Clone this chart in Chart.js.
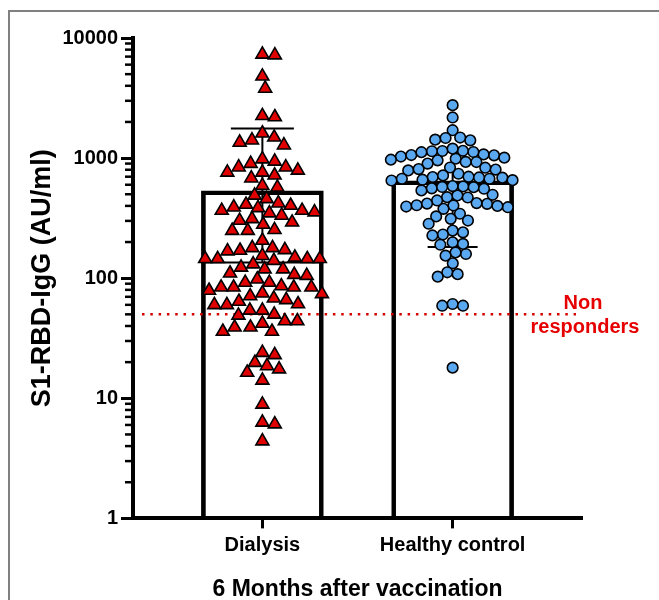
<!DOCTYPE html>
<html>
<head>
<meta charset="utf-8">
<script src="https://cdn.jsdelivr.net/npm/chart.js@4.4.1/dist/chart.umd.min.js"></script>
<style>
  html, body { margin: 0; padding: 0; background: #fff; }
  #wrap { position: relative; width: 659px; height: 600px; overflow: hidden; }
  #frame { position: absolute; left: 8px; top: 10px; right: -10px; bottom: -10px;
           border-left: 2px solid #808080; border-top: 2px solid #808080; }
  canvas { position: absolute; left: 0; top: 0; }
</style>
</head>
<body>
<div id="wrap">
  <div id="frame"></div>
  <canvas id="myChart" width="659" height="600"></canvas>
</div>
<script>
// groups, bar heights (means) and error bars
const groups = ['Dialysis', 'Healthy control'];
const barMeans = [535, 648];
const errUpper = [1766, 1133];
const errLower = [135, 182];
const yTicks = [1, 10, 100, 1000, 10000];
const cutoff = 50;
const cutoffLabel = ['Non', 'responders'];

// individual values (AU/ml)
const dialysis = [
  7200, 7300, 4800, 3800, 2200, 2250, 1610, 1490, 1350, 1280, 1410, 980, 940, 900,
  840, 760, 720, 790, 760, 840, 680, 590, 570,
  458, 489, 390, 385, 421, 411, 403, 333, 355, 366, 366, 348, 302, 280, 312, 292,
  249, 253, 249, 206, 179, 179, 170, 172, 168, 145, 154, 140, 145, 131, 145, 145, 149,
  119, 123, 119, 107, 110, 105, 98,
  86, 84, 79, 92, 74, 84, 75, 84, 84, 71, 92, 60, 64, 60, 61, 54, 54, 66, 68, 50, 49,
  44, 44, 42, 39, 36, 39, 36, 23, 24, 19.8, 18.6, 17.5, 16.4, 14.1, 8.9, 6.1, 6.3, 4.4
];
const healthy = [
  2760, 2180, 1707, 1425, 1406, 1483, 1470,
  1054, 1146, 1074, 1008, 1140, 958, 989, 1124, 1150, 1030, 1060, 1199, 927, 930, 1120, 970,
  695, 741, 651, 700, 673, 802, 900, 832, 835, 790, 810, 687, 690, 655, 718, 661,
  489, 495, 573, 556, 581, 673, 560, 585, 473, 470, 575, 538,
  390, 403, 416, 378, 395, 444, 405, 400, 418, 422,
  344, 302, 312, 327, 284,
  249, 241, 231, 199, 190, 159, 164, 154, 193, 227, 133, 112, 103, 108,
  61, 59, 59, 18
];

const FONT = "'Liberation Sans', Arial, sans-serif";
Chart.defaults.font.family = FONT;
Chart.defaults.color = '#000';

// caps: width in px per group
const capUpperW = [63, 50];
const capLowerW = [122, 50];

const extras = {
  id: 'extras',
  afterDatasetDraw(chart, args) {
    if (args.index !== 0) return;
    const c = chart.ctx, xs = chart.scales.x, ys = chart.scales.y, a = chart.chartArea;
    c.save();
    // error bars
    c.strokeStyle = '#000';
    c.lineWidth = 2;
    groups.forEach((g, i) => {
      const x = xs.getPixelForValue(i);
      const yt = ys.getPixelForValue(errUpper[i]);
      const yb = ys.getPixelForValue(errLower[i]);
      c.beginPath();
      c.moveTo(x, yt); c.lineTo(x, yb);
      c.moveTo(x - capUpperW[i] / 2, yt); c.lineTo(x + capUpperW[i] / 2, yt);
      c.moveTo(x - capLowerW[i] / 2, yb); c.lineTo(x + capLowerW[i] / 2, yb);
      c.stroke();
    });
    // non responders line
    const yc = ys.getPixelForValue(cutoff);
    c.strokeStyle = '#d40000';
    c.lineWidth = 2.5;
    c.setLineDash([2.5, 5.8]);
    c.beginPath();
    c.moveTo(a.left + 9, yc); c.lineTo(a.right - 6, yc);
    c.stroke();
    c.restore();
  },
  afterDraw(chart) {
    const c = chart.ctx, ys = chart.scales.y, a = chart.chartArea;
    c.save();
    // minor ticks on the log axis
    c.strokeStyle = '#000';
    c.lineWidth = 2.5;
    for (let d = 1; d < 10000; d *= 10) {
      for (let m = 2; m < 10; m++) {
        const y = ys.getPixelForValue(m * d);
        c.beginPath();
        c.moveTo(a.left - 8, y); c.lineTo(a.left, y);
        c.stroke();
      }
    }
    // label for the cutoff
    const yc = ys.getPixelForValue(cutoff);
    c.fillStyle = '#e60000';
    c.font = 'bold 20px ' + FONT;
    c.textAlign = 'center';
    c.textBaseline = 'middle';
    c.fillText(cutoffLabel[0], a.right + 1, yc - 11);
    c.fillText(cutoffLabel[1], a.right + 3, yc + 13);
    c.restore();
  }
};

const ctx = document.getElementById('myChart').getContext('2d');
const chart = new Chart(ctx, {
  data: {
    datasets: [
      {
        type: 'bar',
        data: groups.map((g, i) => ({ x: i, y: barMeans[i] })),
        backgroundColor: 'rgba(255,255,255,0)',
        borderColor: '#000',
        borderWidth: 4,
        barThickness: 122,
        order: 3
      },
      {
        type: 'scatter',
        data: dialysis.map(v => ({ x: 0, y: v })),
        pointStyle: 'triangle',
        pointRadius: 7.5,
        backgroundColor: '#e00000',
        borderColor: '#000',
        borderWidth: 1.6,
        order: 1
      },
      {
        type: 'scatter',
        data: healthy.map(v => ({ x: 1, y: v })),
        pointStyle: 'circle',
        pointRadius: 5.3,
        backgroundColor: '#5aa8f0',
        borderColor: '#000',
        borderWidth: 1.6,
        order: 0
      }
    ]
  },
  options: {
    responsive: false,
    animation: false,
    layout: { padding: { left: 26, right: 77, top: 38, bottom: -3 } },
    plugins: { legend: { display: false }, tooltip: { enabled: false } },
    scales: {
      x: {
        type: 'linear',
        min: -0.68,
        max: 1.68,
        offset: false,
        afterBuildTicks: s => { s.ticks = groups.map((g, i) => ({ value: i })); },
        ticks: {
          callback: v => groups[v],
          font: { size: 20, weight: 'bold' },
          color: '#000',
          padding: 5,
          autoSkip: false,
          maxRotation: 0
        },
        grid: { offset: false, drawOnChartArea: false, tickLength: 10, tickWidth: 3, tickColor: '#000' },
        border: { width: 4, color: '#000' },
        title: {
          display: true,
          text: '6 Months after vaccination',
          font: { size: 23, weight: 'bold' },
          color: '#000',
          padding: { top: 13, bottom: 0 }
        }
      },
      y: {
        type: 'logarithmic',
        min: 1,
        max: 10000,
        afterBuildTicks: s => { s.ticks = yTicks.map(v => ({ value: v })); },
        ticks: {
          callback: v => String(v),
          font: { size: 20, weight: 'bold' },
          color: '#000',
          padding: 3
        },
        grid: { drawOnChartArea: false, tickLength: 12, tickWidth: 3, tickColor: '#000' },
        border: { width: 4, color: '#000' },
        title: {
          display: true,
          text: 'S1-RBD-IgG (AU/ml)',
          font: { size: 27, weight: 'bold' },
          color: '#000',
          padding: { top: 0, bottom: 1 }
        }
      }
    }
  },
  plugins: [extras]
});

// spread points sideways (beeswarm) using the chart's own scales
function swarm(values, center, gap) {
  const xs = chart.scales.x, ys = chart.scales.y;
  const unit = xs.getPixelForValue(1) - xs.getPixelForValue(0);
  const order = values.map((v, i) => i).sort((a, b) => values[b] - values[a]);
  const placed = [];
  const out = new Array(values.length);
  order.forEach(i => {
    const py = ys.getPixelForValue(values[i]);
    const cands = [0];
    placed.forEach(p => {
      const dy = Math.abs(p.y - py);
      if (dy < gap) {
        const dx = Math.sqrt(gap * gap - dy * dy);
        cands.push(p.x + dx + 0.01, p.x - dx - 0.01);
      }
    });
    cands.sort((a, b) => Math.abs(a) - Math.abs(b));
    let x = 0;
    for (const cx of cands) {
      if (placed.every(p => (p.x - cx) ** 2 + (p.y - py) ** 2 >= gap * gap - 0.02)) { x = cx; break; }
    }
    placed.push({ x, y: py });
    out[i] = { x: center + x / unit, y: values[i] };
  });
  return out;
}

chart.data.datasets[1].data = swarm(dialysis, 0, 12.5);
chart.data.datasets[2].data = swarm(healthy, 1, 10.5);
chart.update('none');
</script>
</body>
</html>
